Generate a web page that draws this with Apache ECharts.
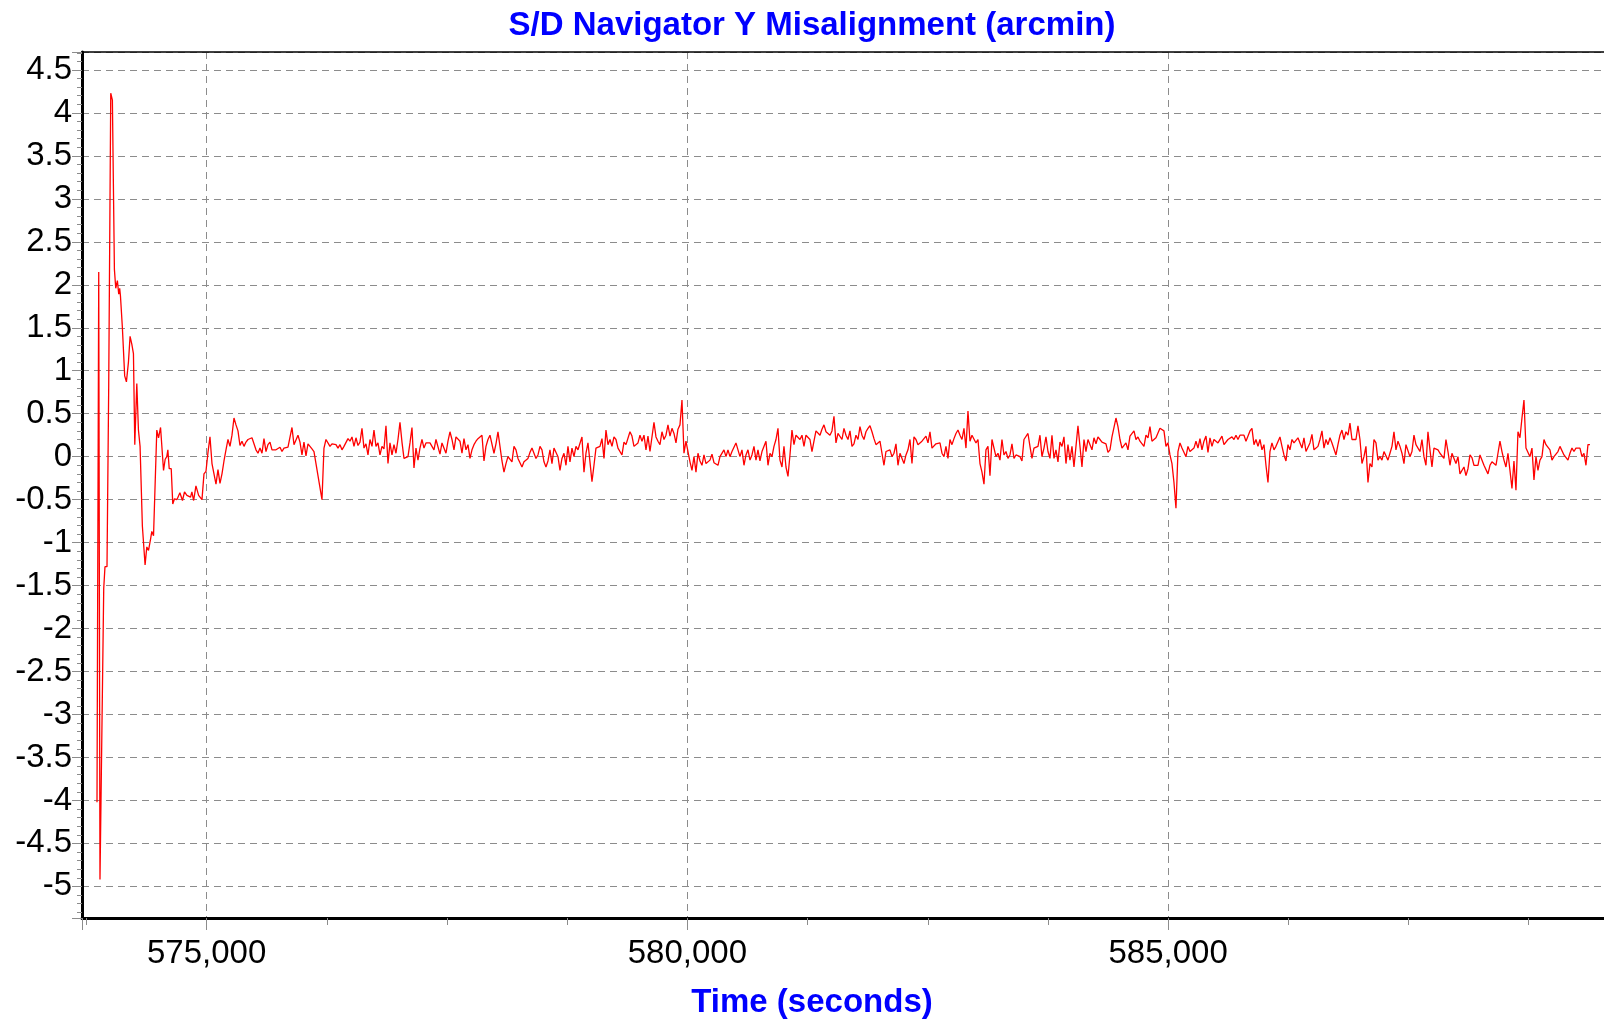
<!DOCTYPE html>
<html>
<head>
<meta charset="utf-8">
<title>S/D Navigator Y Misalignment</title>
<script src="https://cdn.jsdelivr.net/npm/echarts@6.0.0/dist/echarts.min.js"></script>
<style>
  html, body { margin: 0; padding: 0; background: #fff; }
  #chart { width: 1604px; height: 1023px; }
</style>
</head>
<body>
<div id="chart"></div>
<script>
// start-up transient (time in seconds, misalignment in arcmin)
var transientTime = [573860,573878,573891,573930,573943,573964,573982,574000,574003,574020,
  574041,574055,574072,574086,574096,574104,574124,574148,574166,574187,
  574204,574222,574239,574253,574274,574291,574308,574332,574360,574378,
  574396,574417,574430,574448,574482,574500,574521,574552,574569,574586,
  574597,574611,574632,574648,574666,574691,574722,574749,574770,574795,
  574833,574847,574865,574889,574917];
var transientValue = [-4.02,2.15,-4.92,-1.53,-1.28,-1.28,0.85,0.85,4.23,4.15,
  2.18,1.96,2.05,1.89,1.96,1.87,1.5,0.94,0.87,1.1,
  1.40,1.31,1.2,0.14,0.85,0.31,0.12,-0.81,-1.26,-1.05,
  -1.09,-0.96,-0.87,-0.92,0.31,0.22,0.34,-0.16,-0.03,0.0,
  0.08,-0.14,-0.14,-0.55,-0.49,-0.5,-0.42,-0.51,-0.41,-0.45,
  -0.47,-0.41,-0.51,-0.34,-0.45];

// steady part, read in six stretches; each stretch starts at stripStart[k], samples every sampleStep s
var stripStart = [574931, 577323, 579715, 582107, 584499, 586891];
var sampleStep = 20.8;

var strip1 = [-0.47,-0.5,-0.2,-0.17,0.05,0.23,-0.08,-0.2,-0.32,-0.15,
  -0.31,-0.2,-0.05,0.08,0.2,0.12,0.25,0.45,0.37,0.3,
  0.13,0.18,0.12,0.17,0.2,0.21,0.22,0.21,0.08,0.04,
  0.1,0.04,0.21,0.06,0.14,0.17,0.08,0.06,0.08,0.06,
  0.11,0.06,0.1,0.11,0.11,0.12,0.34,0.14,0.14,0.25,
  0.17,0.02,0.17,0.01,0.15,0.16,0.09,0.06,0.04,-0.22,
  -0.2,-0.5,0.1,0.2,0.22,0.12,0.15,0.13,0.14,0.1,
  0.14,0.08,0.12,0.1,0.21,0.18,0.23,0.12,0.22,0.13,
  0.17,0.33,0.1,0.15,0.02,0.2,0.12,0.31,0.12,0.16,
  0.02,0.12,0.09,0.36,-0.08,0.16,0.02,0.14,0.04,0.2,
  0.4,0.17,-0.02,-0.02,0.0,0.16,0.34,-0.13,0.1,-0.04,
  0.1,0.2,0.1,0.16,0.15];
var strip2 = [0.16,0.14,0.08,0.2,0.18,0.03,0.16,0.14,0.04,0.18,
  0.29,0.2,0.08,0.23,0.25,0.18,0.04,0.21,0.08,0.14,
  -0.02,0.08,0.14,0.18,0.21,0.2,0.25,-0.05,0.12,0.2,
  0.25,0.24,0.04,0.15,0.29,0.12,-0.05,-0.18,-0.08,0.0,
  0.0,-0.06,0.12,0.08,-0.02,0.0,-0.12,-0.06,-0.08,-0.02,
  0.05,0.1,0.1,-0.02,0.02,0.12,0.08,-0.06,-0.12,-0.05,
  0.08,-0.08,0.1,0.12,0.0,-0.16,-0.02,0.04,-0.1,0.12,
  -0.06,0.1,0.0,0.12,0.08,0.1,0.23,-0.18,0.04,0.16,
  -0.06,-0.29,-0.1,0.1,0.08,0.12,0.21,-0.02,0.31,0.14,
  0.2,0.12,0.23,0.2,0.1,0.08,0.02,0.17,0.14,0.14,
  0.29,0.24,0.12,0.14,0.16,0.25,0.18,0.25,0.08,0.24,
  0.06,0.08,0.4,0.23,0.18];
var strip3 = [0.14,0.29,0.2,0.25,0.37,0.24,0.33,0.27,0.16,0.32,
  0.37,0.66,0.04,0.18,0.06,-0.06,-0.16,0.0,-0.18,0.04,
  -0.05,-0.1,0.02,-0.08,-0.08,-0.04,0.03,-0.07,-0.08,-0.1,
  0.0,-0.02,0.08,0.0,0.08,0.0,0.06,0.08,0.16,0.08,
  0.0,0.08,-0.1,0.02,0.08,-0.04,0.02,0.12,-0.04,0.08,
  -0.05,0.06,0.08,0.18,-0.1,0.04,0.0,0.12,0.2,0.33,
  -0.04,-0.12,0.12,-0.12,-0.23,0.02,0.31,0.14,0.25,0.25,
  0.2,0.25,0.12,0.25,0.27,0.2,0.06,0.18,0.3,0.3,
  0.25,0.32,0.37,0.29,0.3,0.25,0.3,0.47,0.16,0.27,
  0.29,0.2,0.33,0.25,0.2,0.3,0.12,0.15,0.25,0.2,
  0.35,0.25,0.2,0.29,0.33,0.36,0.29,0.21,0.14,0.13,
  0.18,0.04,-0.1,0.06,0.08];
var strip4 = [0.08,0.0,0.04,0.15,-0.1,0.04,0.04,-0.08,0.02,0.08,
  0.2,-0.08,0.23,0.2,0.14,0.16,0.18,0.2,0.24,0.16,
  0.29,0.1,0.12,0.15,0.14,0.16,0.04,0.0,0.12,-0.02,
  0.2,0.14,0.21,0.27,0.31,0.25,0.2,0.33,0.1,0.53,
  0.18,0.25,0.25,0.16,0.2,-0.08,-0.18,-0.32,0.08,0.12,
  -0.22,0.2,0.22,0.0,0.04,-0.04,0.2,0.02,0.06,-0.02,
  0.02,0.15,-0.02,0.02,0.0,0.0,-0.05,0.2,0.2,0.27,
  0.12,-0.02,0.1,0.08,0.12,0.25,0.0,0.1,0.23,0.06,
  -0.02,0.25,-0.02,0.08,-0.06,0.17,0.12,0.23,-0.08,0.14,
  -0.04,0.12,-0.12,0.12,0.36,0.35,-0.12,0.2,0.06,0.2,
  0.22,0.08,0.22,0.15,0.23,0.2,0.17,0.16,0.15,0.05,
  0.08,0.23,0.25,0.45,0.35];
var strip5 = [0.2,0.1,0.12,0.16,0.08,0.24,0.22,0.3,0.2,0.23,
  0.18,0.16,0.12,0.25,0.22,0.35,0.18,0.16,0.22,0.21,
  0.33,0.34,0.3,0.12,0.16,0.02,-0.08,-0.3,-0.6,0.06,
  0.16,0.1,0.1,0.0,0.12,0.06,0.08,0.1,0.18,0.1,
  0.21,0.08,0.18,0.24,0.05,0.22,0.12,0.2,0.18,0.16,
  0.15,0.24,0.14,0.12,0.2,0.2,0.23,0.2,0.25,0.2,
  0.25,0.25,0.25,0.18,0.18,0.3,0.33,0.14,0.2,0.12,
  0.2,0.08,0.14,-0.1,-0.3,0.06,0.16,0.08,0.12,0.1,
  0.23,0.12,0.02,-0.05,0.14,0.08,0.2,0.16,0.14,0.22,
  0.16,0.1,0.22,0.06,0.04,0.16,0.26,0.08,0.06,0.12,
  0.2,0.3,0.1,0.2,0.14,0.22,0.16,0.17,0.02,0.14,
  0.25,0.31,0.2,0.29,0.25];
var strip6 = [0.39,0.2,0.22,0.2,0.36,0.2,-0.08,0.0,0.12,-0.3,
  -0.08,-0.12,0.2,0.16,-0.04,0.0,-0.04,0.06,0.04,-0.04,
  0.04,0.12,0.29,0.08,0.18,0.12,0.04,-0.08,0.14,0.16,
  0.0,0.06,0.25,0.14,0.12,0.06,0.2,0.0,-0.1,0.29,
  0.08,-0.12,0.1,0.1,0.08,0.04,0.04,-0.02,0.2,0.06,
  -0.1,0.04,-0.02,-0.08,0.0,-0.2,-0.2,-0.12,-0.22,-0.14,
  0.02,-0.01,-0.1,-0.1,-0.1,0.02,0.0,-0.1,-0.12,-0.2,
  -0.1,-0.06,-0.08,-0.1,0.04,0.18,0.06,-0.04,-0.12,0.04,
  -0.16,-0.37,-0.05,-0.39,0.29,0.22,0.45,0.66,0.1,0.08,
  0.0,0.1,-0.27,0.0,-0.16,-0.04,0.0,0.2,0.14,0.12,
  0.08,-0.04,0.0,0.02,0.06,0.12,0.14,0.02,0.04,-0.04,
  0.04,0.1,0.06,0.1,0.12,0.1,0.0,0.04,-0.1,0.14,
  0.14];

// axis ranges / labels
var xMin = 573704, xMax = 589533, xStep = 5000;
var yMin = -5.368, yMax = 4.709, yStep = 0.5;
var titleText = 'S/D Navigator Y Misalignment (arcmin)';
var xName = 'Time (seconds)';

// build [time, value] pairs
var points = [];
for (var i = 0; i < transientTime.length; i++) {
    points.push([transientTime[i], transientValue[i]]);
}
var strips = [strip1, strip2, strip3, strip4, strip5, strip6];
for (var k = 0; k < strips.length; k++) {
    for (var j = 0; j < strips[k].length; j++) {
        points.push([stripStart[k] + j * sampleStep, strips[k][j]]);
    }
}

var FONT = '"Liberation Sans", Arial, sans-serif';
var gridGrey = '#8c8c8c';

var chart = echarts.init(document.getElementById('chart'));
chart.setOption({
    animation: false,
    backgroundColor: '#fff',
    title: [{
        text: titleText,
        left: 807, top: 4, textAlign: 'center',
        textStyle: { color: '#0000ff', fontSize: 33, fontWeight: 'bold', fontFamily: FONT }
    }, {
        text: xName,
        left: 807, top: 981, textAlign: 'center',
        textStyle: { color: '#0000ff', fontSize: 33, fontWeight: 'bold', fontFamily: FONT }
    }],
    grid: { left: 82, top: 52, right: 0, bottom: 105, containLabel: false },
    xAxis: [{
        type: 'value',
        min: xMin, max: xMax,
        minInterval: xStep, maxInterval: xStep,
        position: 'bottom',
        axisLine: { onZero: false, lineStyle: { color: '#000', width: 3 } },
        axisTick: { length: 12, lineStyle: { color: gridGrey, width: 1 } },
        minorTick: { show: true, splitNumber: 4, length: 7, lineStyle: { color: gridGrey, width: 1 } },
        axisLabel: {
            fontSize: 33, color: '#000', fontFamily: FONT, margin: 19,
            showMinLabel: false, showMaxLabel: false,
            formatter: function (v) {
                if (v % xStep !== 0) return '';
                return v.toLocaleString('en-US');
            }
        },
        splitLine: { show: true, lineStyle: { color: gridGrey, width: 1, type: [7, 5] } }
    }, {
        type: 'value',
        min: xMin, max: xMax,
        position: 'top',
        axisLine: { onZero: false, lineStyle: { color: '#000', width: 1.5 } },
        axisTick: { show: false },
        axisLabel: { show: false },
        splitLine: { show: false }
    }],
    yAxis: {
        type: 'value',
        min: yMin, max: yMax,
        minInterval: yStep, maxInterval: yStep,
        axisLine: { show: true, onZero: false, lineStyle: { color: '#000', width: 3 } },
        axisTick: { show: true, length: 10, lineStyle: { color: gridGrey, width: 1 } },
        minorTick: { show: true, splitNumber: 5, length: 5, lineStyle: { color: gridGrey, width: 1 } },
        axisLabel: {
            fontSize: 33, color: '#000', fontFamily: FONT, margin: 10,
            padding: [6, 0, 0, 0],
            showMinLabel: false, showMaxLabel: false,
            formatter: function (v) {
                if (Math.abs(v / yStep - Math.round(v / yStep)) > 1e-6) return '';
                return String(v);
            }
        },
        splitLine: { show: true, lineStyle: { color: gridGrey, width: 1, type: [7, 5] } }
    },
    series: [{
        type: 'line',
        xAxisIndex: 0,
        data: points,
        symbol: 'none',
        lineStyle: { color: '#ff0000', width: 1.3 },
        z: 3
    }]
});
</script>
</body>
</html>
